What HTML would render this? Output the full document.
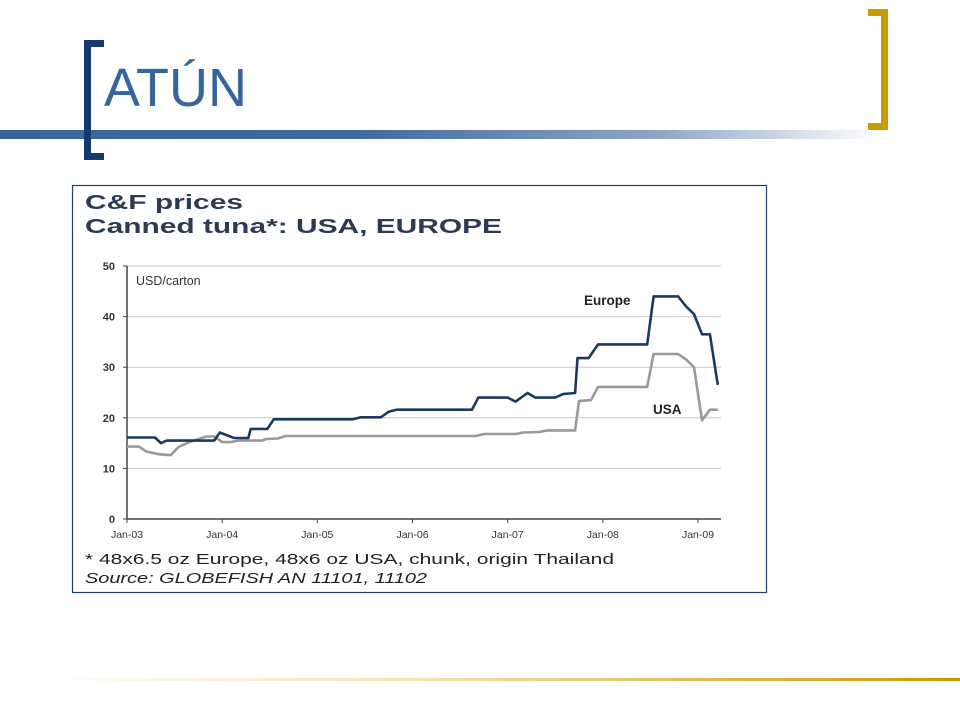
<!DOCTYPE html>
<html><head><meta charset="utf-8"><style>
html,body{margin:0;padding:0;background:#fff;}
body{width:960px;height:720px;position:relative;overflow:hidden;font-family:"Liberation Sans",sans-serif;}
.abs{position:absolute;}
</style></head><body>
<div class="abs" style="left:0;top:130px;width:880px;height:9px;background:linear-gradient(to right,#3a659a 0%,#3e6a9e 40%,#8fa6c4 75%,#ffffff 100%);"></div>
<div class="abs" style="left:84px;top:40px;width:13px;height:106px;border:7px solid #123a6e;border-right:none;"></div>
<div class="abs" style="left:104px;top:56px;font-size:54px;line-height:64px;color:#35659d;">ATÚN</div>
<div class="abs" style="left:868px;top:9px;width:13px;height:107px;border:7px solid #cc9900;border-left:none;"></div>
<div class="abs" style="left:40px;top:678px;width:920px;height:3px;background:linear-gradient(to right,#ffffff 0%,#f3e4b8 40%,#cc9900 100%);"></div>

<svg class="abs" style="left:0;top:0" width="960" height="720">
  <rect x="72.5" y="185.5" width="694" height="407" fill="#fff" stroke="#1f3f66" stroke-width="1.2"/>
  <text x="85" y="209" font-family="Liberation Sans, sans-serif" font-weight="bold" font-size="20" fill="#2b3b52" textLength="158" lengthAdjust="spacingAndGlyphs">C&amp;F prices</text>
  <text x="85" y="233" font-family="Liberation Sans, sans-serif" font-weight="bold" font-size="20" fill="#2b3b52" textLength="417" lengthAdjust="spacingAndGlyphs">Canned tuna*: USA, EUROPE</text>
  <g id="plot"></g>
  <text x="85" y="564" font-family="Liberation Sans, sans-serif" font-size="15" fill="#222" textLength="529" lengthAdjust="spacingAndGlyphs">* 48x6.5 oz Europe, 48x6 oz USA, chunk, origin Thailand</text>
  <text x="85" y="583" font-family="Liberation Sans, sans-serif" font-style="italic" font-size="15" fill="#222" textLength="342" lengthAdjust="spacingAndGlyphs">Source: GLOBEFISH AN 11101, 11102</text>
</svg>
<script>
const yTicks = [0,10,20,30,40,50];
const xTickLabels = ["Jan-03","Jan-04","Jan-05","Jan-06","Jan-07","Jan-08","Jan-09"];
const xTickMonths = [0,12,24,36,48,60,72];
const europeMonths = [0,3.5,4.3,5,11,11.7,13.5,15.3,15.6,17.7,18.5,28.5,29.5,32,33,34,43.5,44.3,48,49,50.5,51.5,54,55,56.5,56.8,58.2,59.4,65.6,66.4,69.5,70.5,71.5,72.5,73.5,74.5];
const europeValues = [16.1,16.1,15,15.5,15.5,17.1,16,16,17.8,17.8,19.7,19.7,20.1,20.1,21.2,21.6,21.6,24,24,23.2,24.9,24,24,24.7,24.9,31.8,31.8,34.5,34.5,44,44,42,40.5,36.5,36.5,26.5];
const usaMonths = [0,1.5,2.5,4,5.5,6.5,8,10,11,12,13,14,17,17.5,19,20,44,45,49,50,52,53,56.5,57,58.5,59.4,65.6,66.4,69.5,70.5,71.5,72.5,73.5,74.5];
const usaValues = [14.3,14.3,13.3,12.8,12.6,14.2,15.3,16.3,16.3,15.2,15.2,15.5,15.5,15.8,15.9,16.4,16.4,16.8,16.8,17.1,17.2,17.5,17.5,23.3,23.5,26.1,26.1,32.6,32.6,31.5,30,19.5,21.6,21.6];

const X0=127, PXM=(698-127)/72, Y0=519, PXV=(519-266)/50, XR=721;
const sx = m => X0 + m*PXM;
const sy = v => Y0 - v*PXV;
const NS="http://www.w3.org/2000/svg";
const g=document.getElementById('plot');
function mk(tag,attrs){const e=document.createElementNS(NS,tag);for(const k in attrs)e.setAttribute(k,attrs[k]);g.appendChild(e);return e;}

yTicks.forEach(v=>{
  if(v>0){const l=mk('line',{x1:X0,x2:XR,y1:sy(v),y2:sy(v),stroke:'#c8c8c8','stroke-width':1});
  
  }
  const t=mk('line',{x1:X0-4,x2:X0,y1:sy(v),y2:sy(v),stroke:'#444'});
  
  
  const tx=mk('text',{x:X0-12,y:sy(v)+4,'text-anchor':'end','font-size':11,'font-weight':'bold','font-family':'Liberation Sans, sans-serif',fill:'#333'});
  tx.textContent=v;
  
  
});
xTickMonths.forEach((m,i)=>{
  const t=mk('line',{x1:sx(m),x2:sx(m),y1:Y0,y2:Y0+4,stroke:'#444'});
  
  
  const tx=mk('text',{x:sx(m),y:Y0+19,'text-anchor':'middle','font-size':10.5,'font-family':'Liberation Sans, sans-serif',fill:'#333'});
  tx.textContent=xTickLabels[i];
  
  
});
const ax=mk('path',{d:`M${X0} ${sy(50)} V${Y0} H${XR}`,fill:'none',stroke:'#444','stroke-width':1.5});


const unit=mk('text',{x:136,y:285,'font-size':12.5,'font-family':'Liberation Sans, sans-serif',fill:'#333'});
unit.textContent='USD/carton';



function line(ms,vs,color,name){
  const d=ms.map((m,i)=>(i?'L':'M')+sx(m).toFixed(1)+' '+sy(vs[i]).toFixed(1)).join(' ');
  const p=mk('path',{d:d,fill:'none',stroke:color,'stroke-width':2.6,'stroke-linejoin':'round'});
  
  
}
line(usaMonths,usaValues,'#9a9a9a','usa-line');
line(europeMonths,europeValues,'#1b3a5e','europe-line');
const le=mk('text',{x:584,y:305,'font-size':13.5,'font-weight':'bold','font-family':'Liberation Sans, sans-serif',fill:'#222'});
le.textContent='Europe';


const lu=mk('text',{x:653,y:414,'font-size':13.5,'font-weight':'bold','font-family':'Liberation Sans, sans-serif',fill:'#222'});
lu.textContent='USA';


</script>
</body></html>
